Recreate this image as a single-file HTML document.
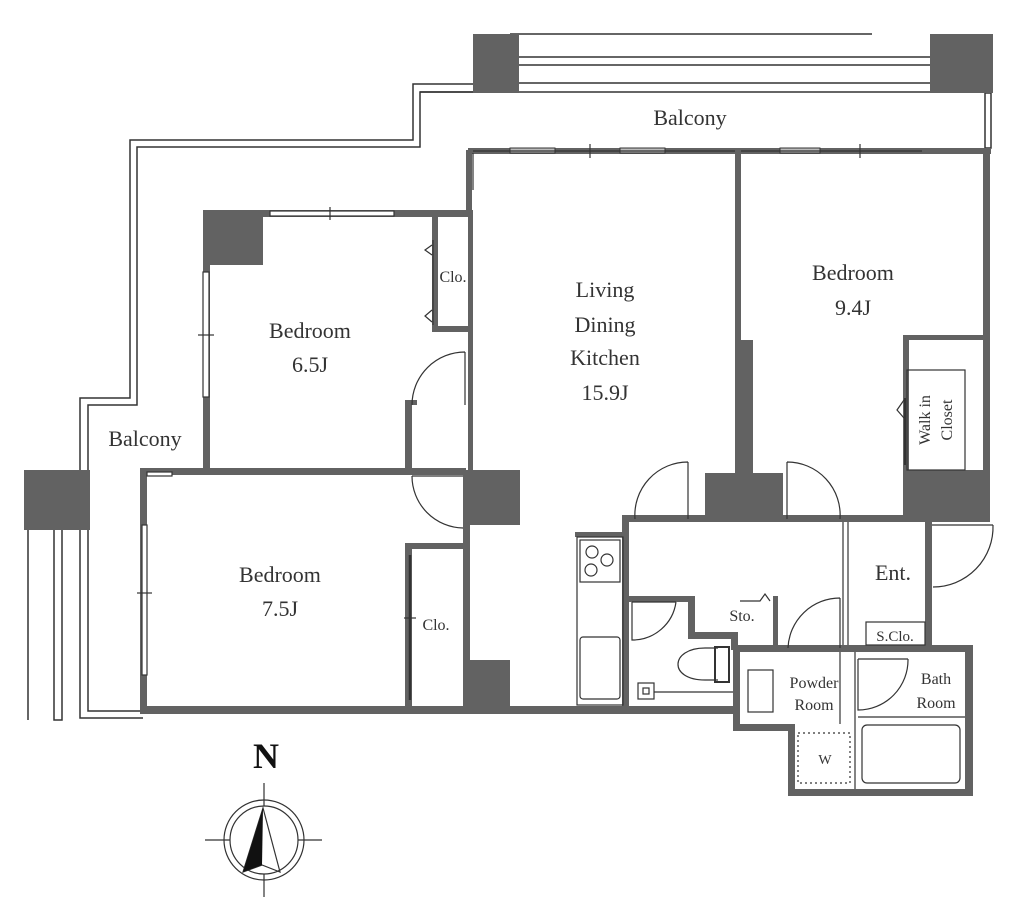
<!DOCTYPE html>
<html><head><meta charset="utf-8"><style>
html,body{margin:0;padding:0;background:#fff;}
svg{display:block}
text{font-family:"Liberation Serif",serif;fill:#333;}
</style></head><body>
<svg width="1024" height="909" viewBox="0 0 1024 909" xmlns="http://www.w3.org/2000/svg">
<g fill="none" stroke="#333" stroke-width="1.5">
<polyline points="473,84 413,84 413,140 130,140 130,398 80,398 80,470"/>
<polyline points="473,92 420,92 420,147 137,147 137,405 88,405 88,470"/>
<polyline points="80,530 80,718 143,718"/>
<polyline points="88,530 88,711 143,711"/>
<line x1="28" y1="530" x2="28" y2="720"/>
<rect x="54" y="527" width="8" height="193"/>
<line x1="510" y1="34" x2="872" y2="34"/>
<line x1="518" y1="57" x2="930" y2="57"/>
<line x1="518" y1="65" x2="930" y2="65"/>
<line x1="518" y1="83" x2="930" y2="83"/>
<line x1="420" y1="92" x2="993" y2="92"/>
<rect x="985" y="93" width="6" height="55"/>
</g>
<g fill="#626262">
<rect x="473" y="34" width="46" height="59"/>
<rect x="930" y="34" width="63" height="59"/>
<rect x="24" y="470" width="66" height="60"/>
<rect x="468" y="148" width="523" height="6"/>
<rect x="983" y="148" width="7" height="372"/>
<rect x="735" y="150" width="6" height="190"/>
<rect x="735" y="340" width="18" height="135"/>
<rect x="705" y="473" width="78" height="46"/>
<rect x="903" y="335" width="85" height="5"/>
<rect x="903" y="335" width="6" height="140"/>
<rect x="903" y="470" width="85" height="50"/>
<rect x="466" y="150" width="6" height="62"/>
<rect x="468" y="210" width="5" height="265"/>
<rect x="463" y="470" width="57" height="55"/>
<rect x="463" y="525" width="7" height="185"/>
<rect x="463" y="660" width="47" height="52"/>
<rect x="203" y="210" width="267" height="7"/>
<rect x="203" y="210" width="60" height="55"/>
<rect x="203" y="210" width="7" height="265"/>
<rect x="140" y="468" width="326" height="7"/>
<rect x="432" y="217" width="6" height="113"/>
<rect x="432" y="326" width="38" height="6"/>
<rect x="405" y="400" width="7" height="72"/>
<rect x="405" y="400" width="12" height="5"/>
<rect x="140" y="470" width="7" height="243"/>
<rect x="140" y="706" width="595" height="8"/>
<rect x="405" y="543" width="60" height="6"/>
<rect x="405" y="543" width="7" height="168"/>
<rect x="622" y="515" width="368" height="7"/>
<rect x="622" y="515" width="7" height="195"/>
<rect x="575" y="532" width="50" height="5"/>
<rect x="628" y="596" width="62" height="6"/>
<rect x="688" y="596" width="7" height="42"/>
<rect x="688" y="632" width="50" height="7"/>
<rect x="731" y="632" width="7" height="18"/>
<rect x="773" y="596" width="5" height="52"/>
<rect x="925" y="520" width="7" height="125"/>
<rect x="733" y="645" width="240" height="7"/>
<rect x="733" y="645" width="7" height="85"/>
<rect x="733" y="724" width="57" height="7"/>
<rect x="788" y="724" width="7" height="72"/>
<rect x="788" y="789" width="185" height="7"/>
<rect x="965" y="645" width="8" height="150"/>
</g>
<g fill="#bbb" stroke="#333" stroke-width="1">
<rect x="510" y="148" width="45" height="5"/>
<rect x="620" y="148" width="45" height="5"/>
<rect x="780" y="148" width="40" height="5"/>
</g>
<g fill="none" stroke="#333" stroke-width="1.2">
<line x1="473" y1="151" x2="735" y2="151"/>
<line x1="741" y1="151" x2="922" y2="151"/>
<rect x="270" y="211" width="124" height="5" fill="#fff"/>
<line x1="330" y1="207" x2="330" y2="220"/>
<rect x="203" y="272" width="6" height="125" fill="#fff"/>
<line x1="198" y1="335" x2="214" y2="335"/>
<rect x="142" y="525" width="5" height="150" fill="#fff"/>
<line x1="137" y1="593" x2="152" y2="593"/>
<rect x="147" y="472" width="25" height="4" fill="#fff"/>
<line x1="590" y1="144" x2="590" y2="158"/>
<line x1="860" y1="144" x2="860" y2="158"/>
<line x1="473" y1="153" x2="473" y2="190"/>
<line x1="433" y1="240" x2="433" y2="325"/>
<polyline points="432,245 425,250 432,255"/>
<polyline points="432,310 425,316 432,322"/>
<line x1="410" y1="555" x2="410" y2="700" stroke-width="2.5"/>
<line x1="404" y1="618" x2="416" y2="618"/>
<rect x="907" y="370" width="58" height="100"/>
<line x1="905" y1="398" x2="905" y2="465" stroke-width="2"/>
<polyline points="904,400 897,410 904,418"/>
<path d="M465,352 L465,405 M465,352 A53,53 0 0 0 412,405"/>
<path d="M412,476 L463,476 M412,476 A52,52 0 0 0 463,528"/>
<path d="M688,462 L688,519 M688,462 A53,53 0 0 0 635,519"/>
<path d="M787,462 L787,519 M787,462 A53,53 0 0 1 840,519"/>
<path d="M932,525 L993,525 M993,525 A60,60 0 0 1 933,587"/>
<path d="M840,598 L840,648 M840,598 A52,52 0 0 0 788,648"/>
<path d="M632,602 L676,602 M632,602 L632,640 A44,44 0 0 0 676,602"/>
<path d="M858,659 L908,659 M858,659 L858,710 A50,50 0 0 0 908,659"/>
<line x1="843" y1="522" x2="843" y2="645"/>
<line x1="848" y1="522" x2="848" y2="645"/>
<polyline points="740,601 760,601 765,594 770,601"/>
<rect x="577" y="537" width="46" height="168"/>
<rect x="580" y="540" width="40" height="42"/>
<circle cx="592" cy="552" r="6"/><circle cx="607" cy="560" r="6"/><circle cx="591" cy="570" r="6"/>
<rect x="580" y="637" width="40" height="62" rx="3"/>
<rect x="638" y="683" width="16" height="16"/><rect x="643" y="688" width="6" height="6"/>
<line x1="654" y1="692" x2="733" y2="692"/>
<path d="M718,648 L705,648 C670,648 668,680 705,680 L718,680"/>
<rect x="715" y="647" width="14" height="35" stroke-width="2"/>
<rect x="866" y="622" width="59" height="23"/>
<line x1="840" y1="652" x2="840" y2="724"/>
<rect x="748" y="670" width="25" height="42"/>
<rect x="798" y="733" width="52" height="50" stroke-dasharray="2,3"/>
<line x1="855" y1="652" x2="855" y2="789"/>
<line x1="858" y1="717" x2="965" y2="717"/>
<rect x="862" y="725" width="98" height="58" rx="5"/>
<circle cx="264" cy="840" r="40"/>
<circle cx="264" cy="840" r="34"/>
<line x1="264" y1="783" x2="264" y2="806"/>
<line x1="264" y1="874" x2="264" y2="897"/>
<line x1="205" y1="840" x2="230" y2="840"/>
<line x1="298" y1="840" x2="322" y2="840"/>
<polygon points="263,808 243,872 262,865 280,872"/>
</g>
<polygon points="263,808 243,872 262,865" fill="#111"/>
<text x="266" y="768" font-size="36" font-weight="bold" text-anchor="middle" style="fill:#111">N</text>
<g font-size="22" text-anchor="middle">
<text x="690" y="125">Balcony</text>
<text x="145" y="446">Balcony</text>
<text x="310" y="338">Bedroom</text><text x="310" y="372">6.5J</text>
<text x="280" y="582">Bedroom</text><text x="280" y="616">7.5J</text>
<text x="605" y="297">Living</text><text x="605" y="332">Dining</text>
<text x="605" y="365">Kitchen</text><text x="605" y="400">15.9J</text>
<text x="853" y="280">Bedroom</text><text x="853" y="315">9.4J</text>
<text x="893" y="580">Ent.</text>
</g>
<g font-size="16" text-anchor="middle">
<text x="453" y="282">Clo.</text>
<text x="436" y="630">Clo.</text>
<text x="742" y="621">Sto.</text>
<text x="895" y="641" font-size="15">S.Clo.</text>
<text x="814" y="688">Powder</text><text x="814" y="710">Room</text>
<text x="936" y="684">Bath</text><text x="936" y="708">Room</text>
<text x="825" y="764" font-size="14">W</text>
<text transform="translate(930,420) rotate(-90)" font-size="16">Walk in</text>
<text transform="translate(952,420) rotate(-90)" font-size="16">Closet</text>
</g>
</svg>
</body></html>
